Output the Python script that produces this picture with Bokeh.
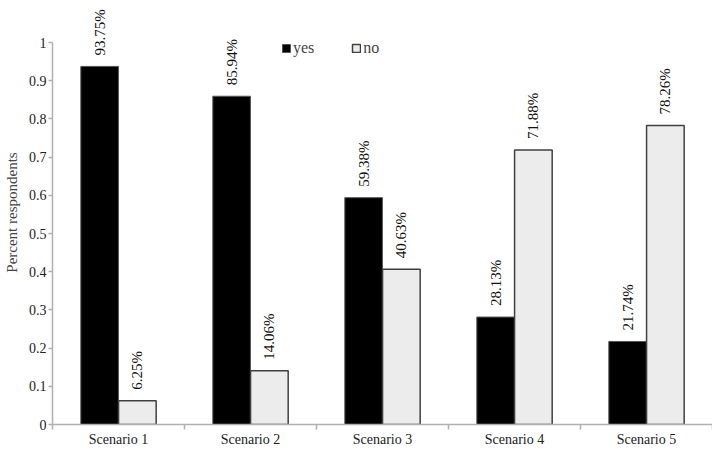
import math
from bokeh.plotting import figure
from bokeh.models import ColumnDataSource, Range1d, FixedTicker, LabelSet, Legend, LegendItem
from bokeh.transform import dodge
from bokeh.embed import file_html
from bokeh.resources import INLINE

categories = ["Scenario 1", "Scenario 2", "Scenario 3", "Scenario 4", "Scenario 5"]
yes = [0.9375, 0.8594, 0.5938, 0.2813, 0.2174]
no = [0.0625, 0.1406, 0.4063, 0.7188, 0.7826]
y_ticks = [0, 0.1, 0.2, 0.3, 0.4, 0.5, 0.6, 0.7, 0.8, 0.9, 1]

pos = [i + 0.5 for i in range(len(categories))]
src = ColumnDataSource(dict(
    x=pos, yes=yes, no=no,
    yes_lbl=[f"{v*100:.2f}%" for v in yes],
    no_lbl=[f"{v*100:.2f}%" for v in no],
))

FONT = "Liberation Serif"
p = figure(width=712, height=449, output_backend="svg", toolbar_location=None,
           x_range=Range1d(0, len(categories)), y_range=Range1d(0, 1.11),
           min_border_left=52, min_border_right=0, min_border_top=0, min_border_bottom=10)
p.outline_line_color = None
p.xgrid.visible = False
p.ygrid.visible = False
p.background_fill_color = "white"

r_yes = p.vbar(x=dodge("x", -0.143, range=p.x_range), top="yes", width=0.285, source=src,
               fill_color="black", line_color="#555555", line_width=1)
r_no = p.vbar(x=dodge("x", 0.143, range=p.x_range), top="no", width=0.285, source=src,
              fill_color="#ececec", line_color="#404040", line_width=1.5)

for col, off in (("yes", -0.143), ("no", 0.143)):
    lbl = LabelSet(x=dodge("x", off, range=p.x_range), y=col, text=col + "_lbl", source=src,
                   angle=math.pi / 2, text_align="left", text_baseline="middle",
                   y_offset=11, text_font=FONT, text_font_size="15px", text_color="#111111")
    p.add_layout(lbl)

# axes
p.xaxis.ticker = FixedTicker(ticks=pos, minor_ticks=list(range(len(categories) + 1)))
p.xaxis.major_label_overrides = {x: c for x, c in zip(pos, categories)}
p.xaxis.major_tick_line_color = None
p.xaxis.major_tick_out = 0
p.xaxis.major_tick_in = 0
p.xaxis.minor_tick_out = 5
p.xaxis.minor_tick_in = 0
p.xaxis.minor_tick_line_color = "#b0b0b0"
p.xaxis.minor_tick_line_width = 1.5
p.xaxis.axis_line_color = "#b0b0b0"
p.xaxis.axis_line_width = 1.5
p.xaxis.major_label_text_font = FONT
p.xaxis.major_label_text_font_size = "14px"
p.xaxis.major_label_text_color = "#222222"
p.xaxis.major_label_standoff = 2

p.yaxis.ticker = FixedTicker(ticks=y_ticks)
p.yaxis.major_label_overrides = {0: "0", 1: "1"}
p.yaxis.bounds = (0, 1)
p.yaxis.minor_tick_line_color = None
p.yaxis.major_tick_out = 4
p.yaxis.major_tick_in = 0
p.yaxis.major_tick_line_color = "#b0b0b0"
p.yaxis.major_tick_line_width = 1.5
p.yaxis.axis_line_color = "#b0b0b0"
p.yaxis.axis_line_width = 1.5
p.yaxis.major_label_text_font = FONT
p.yaxis.major_label_text_font_size = "14px"
p.yaxis.major_label_text_color = "#222222"
p.yaxis.major_label_standoff = 2
p.yaxis.axis_label = "Percent respondents"
p.yaxis.axis_label_text_font = FONT
p.yaxis.axis_label_text_font_style = "normal"
p.yaxis.axis_label_text_font_size = "15px"
p.yaxis.axis_label_standoff = 6

legend = Legend(items=[LegendItem(label="yes", renderers=[r_yes]),
                       LegendItem(label="no", renderers=[r_no])],
                orientation="horizontal", location=(229, 367),
                glyph_width=10, glyph_height=10, label_standoff=2, spacing=37,
                label_text_font=FONT, label_text_font_size="16px",
                border_line_color=None, background_fill_alpha=0, padding=0, margin=0)
p.add_layout(legend)

open("out.html", "w").write(file_html(p, INLINE))
